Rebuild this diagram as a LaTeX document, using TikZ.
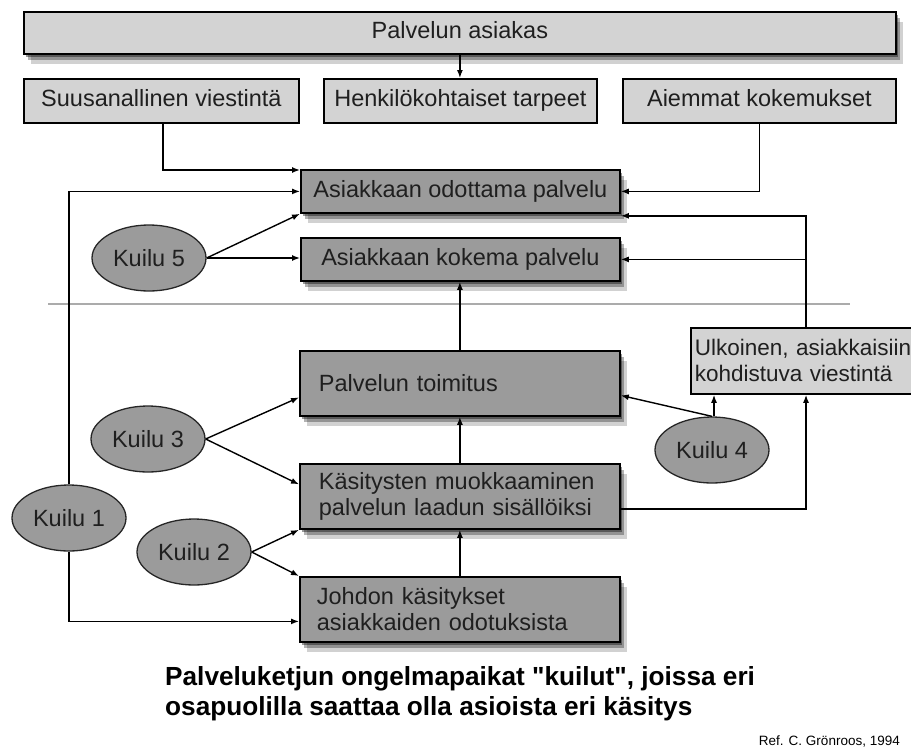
\documentclass[tikz,border=0pt]{standalone}
\usepackage{fontspec}
\setmainfont{Liberation Sans}
\newfontfamily\plainsans[Ligatures=TeXOff]{Liberation Sans}
\usetikzlibrary{shapes.geometric,arrows.meta,shadows}

\definecolor{cLight}{HTML}{D3D3D3}
\definecolor{cDark}{HTML}{9B9B9B}
\definecolor{cSep}{HTML}{ABABAB}

\tikzset{
  boxbase/.style={draw=black, line width=1.8pt, inner sep=0pt,
    font=\fontsize{23.5}{26}\selectfont, text=black!88},
  oneline/.style={text height=17pt, text depth=5pt},
  softshadow/.style={
    drop shadow={shadow xshift=2pt, shadow yshift=-3pt, opacity=0.4, fill=black},
    drop shadow={shadow xshift=4pt, shadow yshift=-6pt, opacity=0.3, fill=black},
    drop shadow={shadow xshift=7pt, shadow yshift=-10pt, opacity=0.18, fill=black}},
  lightbox/.style={boxbase, fill=cLight},
  darkbox/.style={boxbase, fill=cDark, softshadow},
  textbox/.style={darkbox, align=left, inner xsep=19pt, text width=282pt,
    minimum width=320pt, minimum height=65pt, anchor=north west},
  gapnode/.style={ellipse, draw=black!85, line width=1.3pt, fill=cDark,
    minimum width=114pt, minimum height=66pt, inner sep=0pt,
    font=\fontsize{23.5}{26}\selectfont, text=black!88},
  conn/.style={line width=1.4pt, -{Latex[length=8pt,width=6pt]}},
}

\begin{document}
\begin{tikzpicture}[x=1pt, y=-1pt]
  \useasboundingbox (0,0) rectangle (911,755);
  \clip (0,0) rectangle (911,755);

  % separator
  \draw[cSep, line width=1.6pt] (48,304) -- (850,304);

  % top boxes
  \node[lightbox, oneline, softshadow, minimum width=872pt, minimum height=42pt, anchor=north west] (cust) at (23,11) {Palvelun asiakas};
  \node[lightbox, oneline, minimum width=275pt, minimum height=44pt, anchor=north west] (suu) at (23,78) {Suusanallinen viestintä};
  \node[lightbox, oneline, minimum width=273pt, minimum height=44pt, anchor=north west] (hen) at (323,78) {Henkilökohtaiset tarpeet};
  \node[lightbox, oneline, minimum width=273pt, minimum height=44pt, anchor=north west] (aie) at (622,78) {Aiemmat kokemukset};

  % customer side
  \node[darkbox, oneline, minimum width=319pt, minimum height=43pt, anchor=north west] (odo) at (300,169) {Asiakkaan odottama palvelu};
  \node[darkbox, oneline, minimum width=319pt, minimum height=43pt, anchor=north west] (kok) at (300,237) {Asiakkaan kokema palvelu};

  % provider side
  \node[textbox] (toi) at (299,350) {Palvelun toimitus};
  \node[textbox] (kas) at (299,463) {Käsitysten muokkaaminen\\palvelun laadun sisällöiksi};
  \node[textbox, inner xsep=17pt, text width=286pt] (joh) at (299,576) {Johdon käsitykset\\asiakkaiden odotuksista};

  \node[lightbox, align=left, inner xsep=4pt, text width=240pt, minimum height=66pt, anchor=north west,
        font=\fontsize{22.5}{26}\selectfont] (ulk) at (690,327) {Ulkoinen, asiakkaisiin\\kohdistuva viestintä};

  % gaps
  \node[gapnode] (k5) at (149,258) {Kuilu 5};
  \node[gapnode] (k3) at (148,439) {Kuilu 3};
  \node[gapnode] (k1) at (69,518) {Kuilu 1};
  \node[gapnode] (k2) at (194,552) {Kuilu 2};
  \node[gapnode] (k4) at (712,450) {Kuilu 4};

  \coordinate (vx) at (806,0);

  % connectors
  \draw[conn] (cust.south) -- (cust.south |- hen.north);
  \draw[conn] ([xshift=1.5pt]suu.south) |- ([yshift=-1pt]odo.north west);
  \draw[conn] (aie.south) |- (odo.east);
  \draw[conn] (k1.north) |- (odo.west);
  \draw[conn] (k5.east) -- (odo.south west);
  \draw[conn] (k5.east) -- (k5.east -| kok.west);
  \draw[conn] (vx |- ulk.north) |- ([yshift=-2pt]odo.south east);
  \draw[conn] (vx |- kok.east) -- (kok.east);
  \draw[conn] (toi.north) -- (toi.north |- kok.south);
  \draw[conn] (kas.north) -- (toi.south);
  \draw[conn] (joh.north) -- (kas.south);
  \draw[conn] (k3.east) -- ([yshift=-14pt]toi.west);
  \draw[conn] (k3.east) -- ([yshift=12pt]kas.west);
  \draw[conn] (k2.east) -- (kas.south west);
  \draw[conn] (k2.east) -- (joh.north west);
  \draw[conn] (k1.south) |- ([yshift=-12pt]joh.west);
  \draw[conn] (k4.north) -- ([yshift=-12pt]toi.east);
  \draw[conn] ([xshift=2pt]k4.north) -- ([xshift=2pt]k4.north |- ulk.south);
  \draw[conn] ([yshift=-12.5pt]kas.east) -| (vx |- ulk.south);

  % captions
  \node[anchor=west, align=left, inner sep=0pt, font=\plainsans\bfseries\fontsize{26.2}{29.5}\selectfont] (cap) at (165,693.5)
    {Palveluketjun ongelmapaikat "kuilut", joissa eri\\osapuolilla saattaa olla asioista eri käsitys};
  \node[anchor=east, inner sep=0pt, font=\fontsize{13.5}{16}\selectfont] (ref) at (900,741) {Ref. C. Grönroos, 1994};
\end{tikzpicture}
\end{document}
